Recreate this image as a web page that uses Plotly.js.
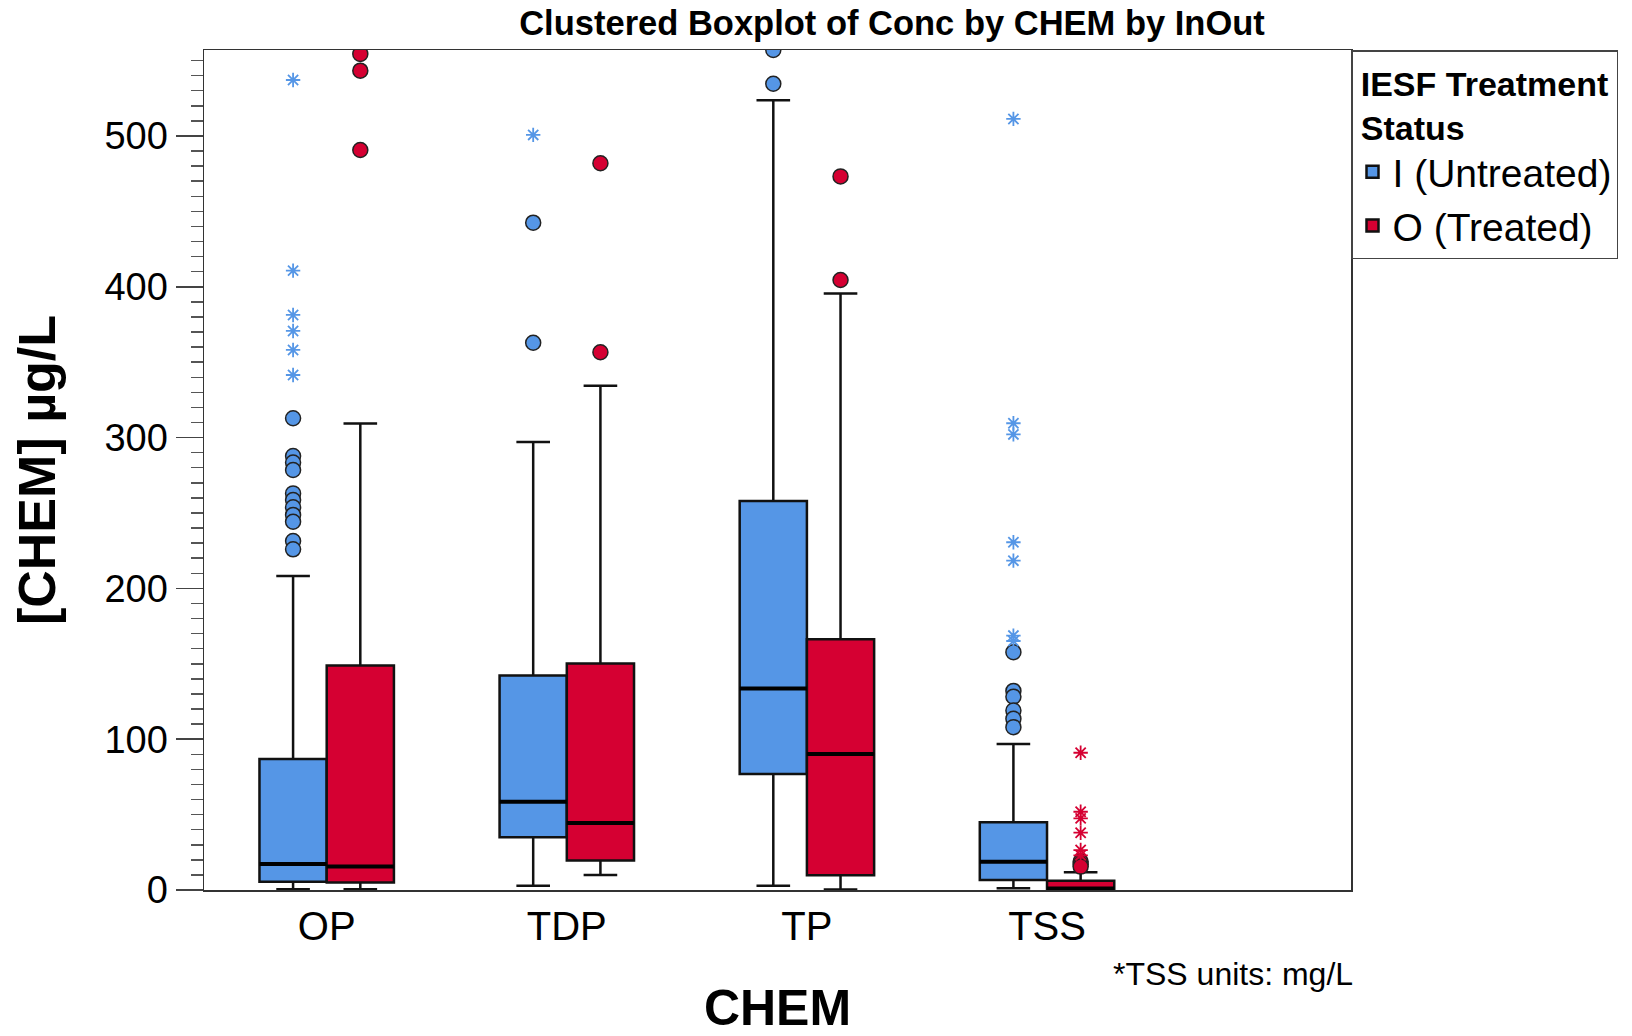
<!DOCTYPE html>
<html>
<head>
<meta charset="utf-8">
<script src="https://cdn.plot.ly/plotly-3.0.1.min.js"></script>
<style>
  html, body { margin: 0; padding: 0; background: #fff; }
  #chart { width: 1632px; height: 1036px; }
</style>
</head>
<body>
<div id="chart"></div>
<script>
// ---------- data ----------
const categories = ['OP', 'TDP', 'TP', 'TSS'];

// I (Untreated)
const untreatedLower  = [0.5, 2.9, 2.9, 1.1];
const untreatedQ1     = [5.5, 35.0, 77.0, 6.6];
const untreatedMedian = [17.2, 58.5, 133.6, 18.8];
const untreatedQ3     = [86.9, 142.2, 258.0, 44.9];
const untreatedUpper  = [208.2, 297.0, 523.6, 96.8];
const untreatedCircles = [
  [312.8, 287.8, 283.4, 278.5, 263.0, 258.6, 253.8, 248.7, 244.2, 231.4, 225.9],
  [442.5, 362.9],
  [534.6, 557.0],
  [157.7, 132.0, 128.2, 119.0, 113.5, 108.0]
];
const untreatedStars = [
  [537.1, 410.7, 381.3, 370.7, 358.1, 341.5],
  [500.7],
  [],
  [511.3, 309.5, 302.1, 230.6, 218.4, 168.7, 165.1]
];

// O (Treated)
const treatedLower  = [0.5, 10.0, 0.3, 0.0];
const treatedQ1     = [4.9, 19.5, 9.8, 0.5];
const treatedMedian = [15.5, 44.5, 90.1, 1.0];
const treatedQ3     = [148.8, 150.2, 166.3, 6.2];
const treatedUpper  = [309.3, 334.3, 395.6, 11.7];
const treatedCircles = [
  [554.4, 543.3, 490.7],
  [481.9, 356.6],
  [473.2, 404.5],
  [18.8, 17.0, 15.5]
];
const treatedStars = [
  [],
  [],
  [],
  [91.0, 51.9, 47.5, 38.0, 26.5, 23.0]
];

const seriesNames = ['I (Untreated)', 'O (Treated)'];

// ---------- styling ----------
const FONT = 'Liberation Sans, Arial, sans-serif';
const BLUE = '#5596E6';
const RED = '#D50032';
const BOXGAP = 0.44;
const boxWidth = (1 - BOXGAP) / 2;   // width of one box in category units
const catPos = categories.map((_, i) => i);

function flatten(groups, side) {
  const xs = [], ys = [];
  groups.forEach((vals, i) => {
    vals.forEach(v => { xs.push(i + side * boxWidth / 2); ys.push(v); });
  });
  return { x: xs, y: ys };
}

function boxTrace(name, color, lower, q1, med, q3, upper) {
  return {
    type: 'box', name: name, x: catPos,
    lowerfence: lower, q1: q1, median: med, q3: q3, upperfence: upper,
    fillcolor: color,
    line: { color: '#111111', width: 2.5 },
    whiskerwidth: 0.5,
    boxpoints: false,
    hoverinfo: 'skip',
    showlegend: true
  };
}

// thicker median bar drawn on top of each box
function medianTrace(med, side) {
  const xs = [], ys = [];
  med.forEach((m, i) => {
    const c = i + side * boxWidth / 2;
    xs.push(c - boxWidth / 2, c + boxWidth / 2, null);
    ys.push(m, m, null);
  });
  return {
    type: 'scatter', mode: 'lines', x: xs, y: ys,
    line: { color: '#000000', width: 4 },
    showlegend: false, hoverinfo: 'skip'
  };
}

function pointTrace(groups, side, symbol, color, size, lineColor, lineWidth) {
  const p = flatten(groups, side);
  return {
    type: 'scatter', mode: 'markers', x: p.x, y: p.y,
    marker: { symbol: symbol, size: size, color: color,
              line: { color: lineColor, width: lineWidth } },
    showlegend: false, hoverinfo: 'skip'
  };
}

const data = [
  boxTrace(seriesNames[0], BLUE, untreatedLower, untreatedQ1, untreatedMedian, untreatedQ3, untreatedUpper),
  boxTrace(seriesNames[1], RED, treatedLower, treatedQ1, treatedMedian, treatedQ3, treatedUpper),
  medianTrace(untreatedMedian, -1),
  medianTrace(treatedMedian, 1),
  pointTrace(untreatedCircles, -1, 'circle', BLUE, 15, '#222222', 1.5),
  pointTrace(treatedCircles, 1, 'circle', RED, 15, '#222222', 1.5),
  pointTrace(untreatedStars, -1, 'asterisk-open', BLUE, 12, BLUE, 1.8),
  pointTrace(treatedStars, 1, 'asterisk-open', RED, 12, RED, 1.8)
];

const layout = {
  width: 1632, height: 1036,
  paper_bgcolor: '#ffffff', plot_bgcolor: '#ffffff',
  margin: { l: 204, r: 281, t: 50, b: 146, pad: 0, autoexpand: false },
  font: { family: FONT, color: '#000000' },
  title: {
    text: 'Clustered Boxplot of Conc by CHEM by InOut',
    font: { family: FONT, size: 34.5, weight: 'bold', color: '#000' },
    x: 892 / 1632, xanchor: 'center', xref: 'container',
    y: 1 - 23 / 1036, yanchor: 'middle', yref: 'container'
  },
  boxmode: 'group',
  boxgap: BOXGAP,
  boxgroupgap: 0,
  xaxis: {
    range: [-0.511, 4.266],
    tickmode: 'array', tickvals: catPos, ticktext: categories,
    ticks: '', showgrid: false, zeroline: false,
    showline: true, linecolor: '#333', linewidth: 1.5, mirror: true,
    tickfont: { family: FONT, size: 40, color: '#000' },
    ticklabelstandoff: 0,
    title: { text: 'CHEM', font: { family: FONT, size: 50, weight: 'bold', color: '#000' }, standoff: 51 }
  },
  yaxis: {
    range: [0, 557],
    tick0: 0, dtick: 100,
    ticks: 'outside', ticklen: 27, tickwidth: 1.5, tickcolor: '#444',
    minor: { dtick: 10, ticks: 'outside', ticklen: 12, tickwidth: 1.5, tickcolor: '#555', showgrid: false },
    showgrid: false, zeroline: false,
    showline: true, linecolor: '#333', linewidth: 1.5, mirror: true,
    tickfont: { family: FONT, size: 38, color: '#000' },
    ticklabelstandoff: 0,
    title: { text: '[CHEM] µg/L', font: { family: FONT, size: 52, weight: 'bold', color: '#000' }, standoff: 32 }
  },
  legend: {
    x: 1, xanchor: 'left', y: 1, yanchor: 'top',
    bordercolor: '#444', borderwidth: 1.5, bgcolor: '#fff',
    font: { family: FONT, size: 39, color: '#000' },
    title: { text: 'IESF Treatment<br>Status', side: 'top center',
             font: { family: FONT, size: 34, weight: 'bold', color: '#000' } },
    itemclick: false, itemdoubleclick: false
  },
  annotations: [{
    text: '*TSS units: mg/L', showarrow: false,
    xref: 'paper', yref: 'paper', x: 1, xanchor: 'right', xshift: 4,
    y: -0.1, yanchor: 'middle',
    font: { family: FONT, size: 32, color: '#000' }
  }]
};

Plotly.newPlot('chart', data, layout, { staticPlot: true, displayModeBar: false });
</script>
</body>
</html>
